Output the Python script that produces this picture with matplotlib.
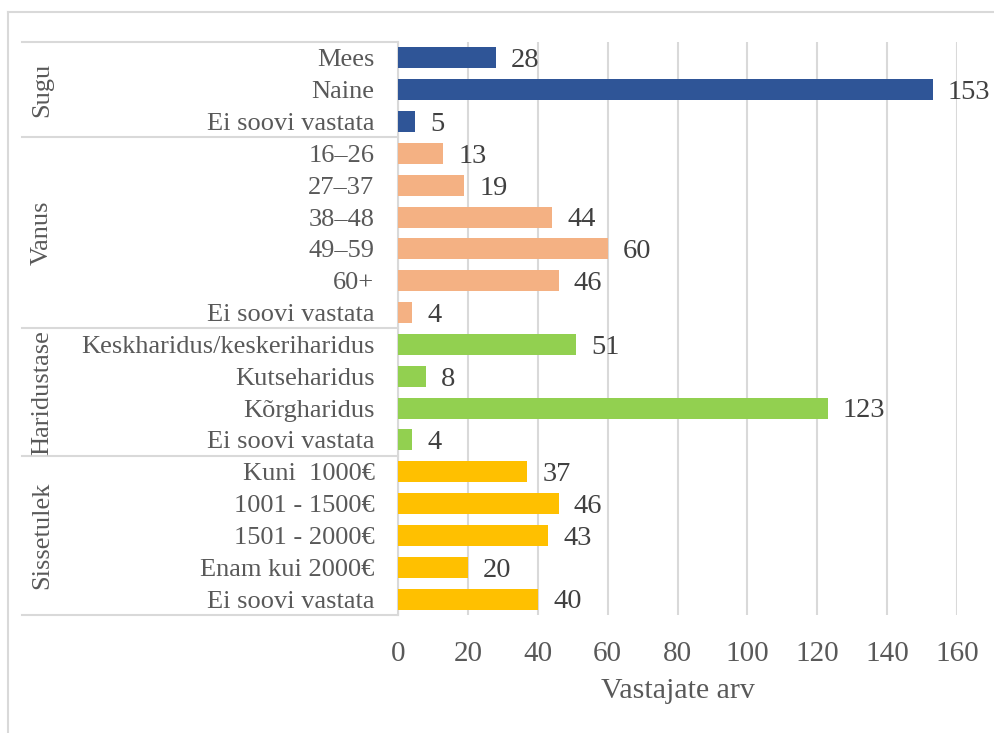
import matplotlib.pyplot as plt
import matplotlib.transforms as mtransforms
from matplotlib.lines import Line2D

# data
groups = ["Sugu", "Vanus", "Haridustase", "Sissetulek"]
sugu_labels = ["Mees", "Naine", "Ei soovi vastata"]
sugu_values = [28, 153, 5]
vanus_labels = ["16–26", "27–37", "38–48", "49–59", "60+", "Ei soovi vastata"]
vanus_values = [13, 19, 44, 60, 46, 4]
haridus_labels = ["Keskharidus/keskeriharidus", "Kutseharidus", "Kõrgharidus", "Ei soovi vastata"]
haridus_values = [51, 8, 123, 4]
sissetulek_labels = ["Kuni  1000€", "1001 - 1500€", "1501 - 2000€", "Enam kui 2000€", "Ei soovi vastata"]
sissetulek_values = [37, 46, 43, 20, 40]
colors = ["#2F5597", "#F4B183", "#92D050", "#FFC000"]

plt.rcParams['font.family'] = ['Liberation Serif', 'DejaVu Serif']

fig = plt.figure(figsize=(9.94, 7.33), dpi=100)
ax = fig.add_axes([398/994, 1-615/733, (957-398)/994, (615-42)/733])

all_labels = [sugu_labels, vanus_labels, haridus_labels, sissetulek_labels]
all_values = [sugu_values, vanus_values, haridus_values, sissetulek_values]

labels, values, cols, bounds = [], [], [], [-0.5]
for lab, val, c in zip(all_labels, all_values, colors):
    labels += lab
    values += val
    cols += [c] * len(val)
    bounds.append(bounds[-1] + len(val))

y = list(range(len(values)))
ax.barh(y, values, height=0.66, color=cols, zorder=3)
for yi, v in zip(y, values):
    ax.annotate(str(v), (v, yi), xytext=(11, -2), textcoords="offset points",
                va="center", ha="left", fontsize=20.5, color="#404040")

ax.set_ylim(len(values) - 0.5, -0.5)
ax.set_xlim(0, 160)
ax.set_xticks(range(0, 161, 20))
ax.set_yticks(y)
ax.set_yticklabels(labels)
ax.tick_params(axis="y", length=0, pad=17, labelsize=19, labelcolor="#595959")
ax.tick_params(axis="x", length=0, pad=19, labelsize=21, labelcolor="#595959")
ax.grid(axis="x", color="#d9d9d9", linewidth=1.5, zorder=0)
for s in ax.spines.values():
    s.set_visible(False)
ax.set_xlabel("Vastajate arv", fontsize=21.5, color="#595959", labelpad=8)

# group separators
trans = mtransforms.blended_transform_factory(ax.transAxes, ax.transData)
x0 = (22 - 398) / 559
for b in bounds:
    ax.plot([x0, 0], [b, b], transform=trans, color="#d9d9d9", lw=1.5, clip_on=False)
ax.plot([0, 0], [bounds[0], bounds[-1]], transform=trans, color="#d9d9d9", lw=1.5, clip_on=False)
for g, b0, b1 in zip(groups, bounds[:-1], bounds[1:]):
    ax.text((42 - 398) / 559, (b0 + b1) / 2, g, transform=trans, rotation=90,
            ha="center", va="center", fontsize=19, color="#595959")

# chart border
fig.add_artist(Line2D([8/994, 1], [1-12/733, 1-12/733], color="#d9d9d9", lw=1.5))
fig.add_artist(Line2D([8/994, 8/994], [0, 1-12/733], color="#d9d9d9", lw=1.5))

fig.savefig("out.png", dpi=100)
